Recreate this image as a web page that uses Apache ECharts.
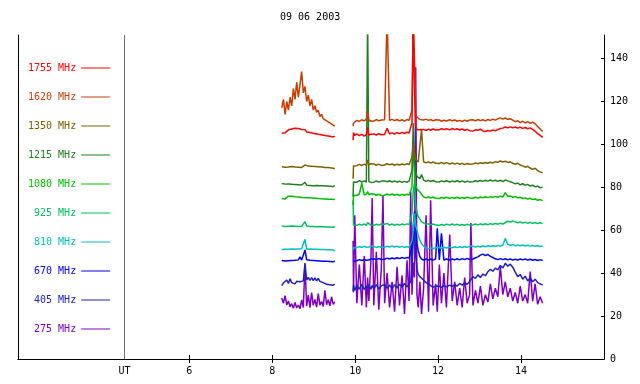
<!DOCTYPE html>
<html><head><meta charset="utf-8">
<script src="https://cdn.jsdelivr.net/npm/echarts@6/dist/echarts.min.js"></script>
<style>html,body{margin:0;padding:0;background:#fff}#c{width:640px;height:384px}</style>
</head><body><div id="c"></div>
<script>
const titleText = '09 06 2003';
const channels = ['1755 MHz','1620 MHz','1350 MHz','1215 MHz','1080 MHz','925 MHz','810 MHz','670 MHz','405 MHz','275 MHz'];
const colors = ['#ff0000','#c83c00','#806000','#208020','#00c000','#00c060','#00c0c0','#0000ff','#2020c0','#8000c0'];
const xTicks = [6, 8, 10, 12, 14];
const yTicks = [0, 20, 40, 60, 80, 100, 120, 140];
const utHour = 4.44;
const utLabel = 'UT';

const times1 = [
8.23, 8.27, 8.31, 8.35, 8.39, 8.43, 8.47, 8.51, 8.55, 8.59,
8.63, 8.67, 8.71, 8.75, 8.79, 8.83, 8.87, 8.91, 8.95, 8.99,
9.03, 9.07, 9.11, 9.15, 9.19, 9.23, 9.27, 9.31, 9.35, 9.39,
9.43, 9.47, 9.51];
const times2 = [
9.95, 9.96, 9.99, 10.04, 10.10, 10.16, 10.22, 10.27, 10.30, 10.33,
10.38, 10.41, 10.45, 10.51, 10.57, 10.63, 10.67, 10.71, 10.77, 10.83,
10.89, 10.95, 11.01, 11.07, 11.13, 11.19, 11.25, 11.30, 11.34, 11.37,
11.40, 11.43, 11.46, 11.49, 11.52, 11.56, 11.60, 11.65, 11.71, 11.77,
11.82, 11.88, 11.94, 11.98, 12.03, 12.08, 12.14, 12.20, 12.28, 12.34,
12.40, 12.46, 12.52, 12.58, 12.64, 12.70, 12.76, 12.79, 12.84, 12.90,
12.96, 13.02, 13.08, 13.14, 13.20, 13.26, 13.32, 13.38, 13.44, 13.50,
13.56, 13.62, 13.68, 13.74, 13.80, 13.86, 13.92, 13.98, 14.04, 14.10,
14.16, 14.22, 14.28, 14.34, 14.40, 14.46, 14.52];
const gapHour = 9.73;

const v1755_1 = [
105.2, 106.0, 105.4, 106.3, 106.8, 106.1, 107.2, 106.5, 107.5, 106.8,
107.4, 106.6, 107.0, 106.2, 106.9, 105.8, 106.4, 105.6, 106.0, 105.2,
105.7, 104.9, 105.3, 104.6, 105.0, 104.3, 104.7, 104.0, 104.4, 103.8,
104.2, 103.5, 103.9];
const v1755_2 = [
102.0, 105.5, 104.2, 104.9, 104.1, 104.7, 103.9, 104.6, 108.0, 104.3,
104.8, 104.2, 104.9, 104.4, 105.0, 104.5, 105.1, 104.6, 107.5, 104.9,
105.4, 104.8, 105.5, 105.0, 105.6, 105.1, 105.7, 105.3, 106.0, 110.0,
160.0, 125.0, 108.5, 107.0, 106.2, 106.8, 106.3, 107.0, 106.5, 107.1,
106.6, 107.2, 106.7, 107.3, 106.8, 107.4, 106.9, 107.3, 106.8, 107.4,
106.9, 107.3, 106.7, 107.2, 106.5, 107.0, 106.4, 106.9, 106.2, 106.8,
106.6, 107.1, 106.3, 106.0, 106.5, 106.2, 106.7, 106.4, 106.9, 107.4,
107.6, 108.1, 107.7, 108.2, 107.8, 108.1, 107.6, 108.0, 107.5, 107.9,
107.3, 107.7, 107.0, 106.2, 105.0, 104.2, 103.3];

const v1620_1 = [
117, 121, 114, 120, 116, 122, 118, 126, 121, 129,
122, 128, 134, 124, 127, 120, 123, 118, 121, 116,
118, 115, 116, 113, 114, 112, 112, 111, 110.5, 110,
109.5, 109, 108.5];
const v1620_2 = [
108.5, 110.0, 110.6, 111.2, 110.7, 111.5, 111.0, 111.8, 116.0, 111.4,
110.8, 111.5, 110.9, 111.6, 111.0, 111.4, 110.8, 111.5, 160.0, 111.2,
111.7, 111.1, 111.6, 111.0, 111.5, 110.9, 111.6, 111.2, 112.0, 116.0,
160.0, 140.0, 114.0, 112.8, 112.2, 111.6, 112.0, 111.4, 111.8, 111.2,
111.6, 111.0, 111.5, 110.9, 111.4, 110.8, 111.3, 110.9, 111.5, 111.0,
111.4, 110.8, 111.2, 110.7, 111.3, 110.8, 111.4, 110.9, 111.5, 111.0,
111.6, 111.1, 111.5, 111.0, 111.6, 111.2, 111.8, 111.3, 111.9, 112.4,
111.8, 112.3, 111.7, 112.0, 111.3, 110.6, 111.0, 110.2, 110.8, 110.0,
110.6, 109.9, 110.4, 109.6, 108.4, 107.2, 106.0];

const v1350_1 = [
89.6, 90.2, 89.4, 90.0, 89.5, 90.3, 89.7, 90.1, 89.5, 90.0,
89.4, 89.9, 89.3, 89.8, 90.4, 89.5, 89.9, 89.3, 89.8, 89.2,
89.7, 89.1, 89.6, 89.0, 89.5, 88.9, 89.3, 88.7, 89.2, 88.6,
89.0, 88.4, 88.8];
const v1350_2 = [
84.0, 90.0, 90.6, 90.1, 90.7, 90.2, 90.8, 90.3, 92.8, 90.5,
91.0, 90.4, 90.9, 90.3, 90.8, 90.2, 90.7, 90.4, 91.0, 90.5,
90.9, 90.3, 90.8, 90.4, 90.9, 90.5, 91.0, 90.6, 91.2, 94.0,
100.0, 96.0, 93.0, 92.2, 91.8, 92.3, 106.8, 91.9, 91.4, 91.9,
91.3, 91.8, 91.2, 91.7, 91.1, 91.6, 91.0, 91.5, 90.9, 91.4,
90.8, 91.3, 90.7, 91.2, 90.6, 91.1, 90.8, 91.3, 90.9, 91.4,
91.0, 91.5, 91.1, 91.6, 91.2, 91.7, 91.3, 92.0, 91.6, 92.3,
91.8, 92.2, 91.6, 91.9, 91.2, 90.8, 91.2, 90.4, 90.0, 89.4,
89.8, 89.0, 88.4, 88.9, 87.8, 87.2, 86.8];

const v1215_1 = [
81.8, 82.4, 81.5, 82.2, 81.6, 82.5, 81.4, 82.0, 81.3, 81.9,
81.2, 81.8, 81.1, 81.7, 82.3, 81.0, 81.6, 80.9, 81.5, 80.8,
81.4, 80.9, 81.3, 80.8, 81.2, 80.7, 81.0, 80.6, 81.1, 80.5,
80.9, 80.4, 80.8];
const v1215_2 = [
75.7, 82.5, 83.0, 82.4, 83.1, 82.5, 83.0, 82.4, 160.0, 82.8,
82.3, 82.9, 82.4, 83.0, 82.5, 82.9, 82.4, 83.0, 82.6, 83.1,
82.5, 83.0, 82.4, 82.9, 82.3, 82.8, 82.4, 82.9, 83.4, 88.0,
110.0, 92.0, 87.0, 85.2, 84.6, 84.0, 86.0, 83.4, 82.8, 83.3,
82.7, 83.2, 82.6, 83.1, 82.5, 83.0, 82.6, 83.1, 82.5, 83.0,
82.6, 83.1, 82.5, 83.0, 82.4, 82.9, 82.5, 83.0, 82.6, 83.1,
82.7, 83.2, 82.8, 83.3, 82.9, 83.4, 82.9, 83.3, 82.8, 83.3,
82.7, 83.4, 83.0, 82.6, 82.2, 81.6, 82.0, 81.2, 81.7, 80.9,
81.4, 80.6, 81.0, 80.2, 80.6, 79.8, 80.1];

const v1080_1 = [
74.8, 75.4, 74.6, 75.3, 75.9, 75.2, 75.8, 75.1, 75.6, 74.9,
75.5, 74.8, 75.3, 74.7, 75.2, 74.6, 75.1, 74.5, 75.0, 74.4,
74.9, 74.3, 74.8, 74.3, 74.7, 74.2, 74.6, 74.1, 74.5, 74.0,
74.4, 73.9, 74.3];
const v1080_2 = [
71.8, 76.3, 76.8, 76.2, 76.9, 81.9, 76.4, 76.9, 78.0, 76.5,
77.0, 76.4, 76.9, 76.3, 76.8, 76.2, 76.7, 76.3, 76.9, 76.4,
76.9, 76.3, 76.8, 76.2, 76.7, 76.3, 76.8, 76.4, 77.0, 80.0,
102.0, 88.0, 81.0, 79.2, 78.6, 77.8, 76.8, 75.6, 75.1, 75.6,
75.0, 75.5, 74.9, 75.4, 74.8, 75.3, 74.9, 75.4, 74.8, 75.3,
74.9, 75.4, 74.8, 75.3, 74.9, 75.4, 75.0, 75.5, 74.9, 75.4,
75.0, 75.5, 75.1, 75.6, 75.2, 75.7, 75.3, 75.8, 75.4, 75.9,
75.5, 77.5, 75.8, 76.0, 75.4, 75.7, 75.1, 75.4, 74.8, 75.1,
74.5, 74.9, 74.3, 74.6, 74.0, 74.3, 73.8];

const v925_1 = [
62.0, 62.5, 61.8, 62.4, 61.9, 62.6, 62.0, 62.5, 61.9, 62.4,
61.8, 62.3, 61.9, 62.5, 64.0, 62.0, 62.4, 61.8, 62.3, 61.7,
62.2, 61.6, 62.1, 61.7, 62.2, 61.6, 62.0, 61.5, 62.0, 61.5,
61.9, 61.4, 61.8];
const v925_2 = [
74.0, 62.4, 62.9, 62.3, 62.8, 62.4, 62.9, 62.3, 63.6, 62.8,
62.4, 62.9, 62.3, 62.8, 62.4, 62.9, 62.3, 62.8, 63.2, 62.4,
62.9, 62.3, 62.8, 62.4, 62.9, 62.5, 63.0, 62.6, 63.4, 68.0,
78.0, 82.0, 72.0, 68.0, 66.4, 65.2, 64.0, 63.4, 62.8, 63.0,
62.5, 62.9, 62.4, 62.8, 62.3, 62.7, 62.3, 62.8, 62.4, 62.9,
62.4, 62.8, 62.3, 62.7, 62.3, 62.8, 62.4, 62.9, 62.5, 62.9,
62.5, 63.0, 62.6, 63.0, 62.6, 63.1, 62.7, 63.2, 62.8, 63.3,
62.9, 63.6, 64.2, 63.8, 64.4, 63.9, 63.5, 63.9, 63.4, 63.8,
63.3, 63.7, 63.2, 63.6, 63.1, 63.5, 63.2];

const v810_1 = [
51.0, 50.6, 51.1, 50.7, 51.2, 50.8, 51.3, 50.9, 51.2, 50.8,
51.3, 50.9, 51.4, 51.0, 55.8, 51.2, 50.8, 51.3, 50.9, 51.2,
50.8, 51.1, 50.7, 51.0, 50.6, 51.0, 50.6, 50.9, 50.5, 50.9,
50.5, 50.8, 50.4];
const v810_2 = [
50.8, 51.8, 52.3, 51.9, 52.4, 52.0, 52.5, 52.1, 52.6, 52.2,
52.6, 52.1, 52.5, 52.0, 52.4, 52.0, 52.5, 52.1, 52.6, 52.2,
52.7, 52.2, 52.6, 52.1, 52.5, 52.0, 52.4, 52.1, 52.6, 55.0,
60.0, 67.9, 62.0, 60.1, 57.5, 55.4, 53.8, 52.6, 51.8, 51.4,
51.8, 51.4, 51.9, 51.5, 52.0, 51.6, 52.1, 51.7, 52.2, 51.8,
52.3, 51.9, 52.3, 52.0, 52.4, 52.0, 52.5, 52.1, 52.5, 52.2,
52.6, 52.2, 52.7, 52.3, 52.8, 52.4, 52.8, 52.5, 52.9, 52.6,
53.0, 56.2, 53.4, 52.9, 53.3, 52.8, 53.2, 52.8, 53.1, 52.7,
53.0, 52.6, 52.9, 52.5, 52.8, 52.4, 52.7];

const v670_1 = [
45.9, 46.4, 45.7, 46.3, 45.8, 46.5, 45.9, 46.6, 46.0, 46.9,
46.2, 47.6, 46.1, 46.7, 50.8, 46.3, 46.8, 46.0, 46.5, 45.9,
46.4, 45.8, 46.3, 45.7, 46.2, 45.6, 46.1, 45.5, 46.0, 45.4,
45.9, 45.3, 45.7];
const v670_2 = [
45.4, 45.9, 45.2, 45.8, 46.3, 45.9, 46.4, 46.0, 46.5, 46.1,
46.6, 46.2, 46.7, 46.3, 46.8, 46.4, 46.9, 46.5, 47.0, 46.6,
47.1, 46.7, 47.2, 46.8, 47.3, 46.9, 47.3, 47.0, 47.8, 52.0,
62.0, 68.7, 60.0, 53.9, 50.5, 47.7, 46.6, 46.1, 46.6, 46.1,
46.6, 46.1, 46.6, 60.9, 46.2, 58.6, 46.1, 46.6, 46.1, 46.6,
46.2, 46.7, 46.2, 46.8, 46.3, 46.9, 46.4, 47.0, 46.6, 47.2,
47.6, 48.4, 48.9, 48.2, 48.7, 47.8, 47.3, 46.7, 46.3, 46.8,
46.3, 46.7, 46.2, 46.6, 46.1, 46.5, 46.1, 46.6, 46.2, 46.6,
46.1, 46.5, 46.0, 46.4, 45.9, 46.3, 45.9];

const v405_1 = [
34.2, 35.4, 34.6, 36.8, 35.2, 37.4, 35.6, 36.5, 35.0, 36.2,
35.3, 36.0, 35.1, 36.4, 44.7, 36.8, 38.0, 36.6, 37.9, 36.5,
37.8, 36.4, 37.6, 36.2, 37.1, 35.6, 36.0, 34.8, 35.5, 34.6,
35.2, 34.4, 34.9];
const v405_2 = [
31.5, 34.5, 32.0, 34.2, 32.6, 34.8, 32.4, 34.0, 33.0, 34.6,
32.5, 34.3, 32.8, 34.7, 32.6, 34.1, 33.2, 34.8, 33.0, 34.5,
32.7, 34.6, 33.1, 34.9, 33.4, 35.2, 33.6, 35.0, 36.0, 44.0,
55.0, 62.0, 48.0, 42.0, 39.5, 38.4, 37.5, 36.8, 35.6, 34.9,
34.2, 33.4, 34.0, 33.2, 33.9, 33.4, 34.2, 33.6, 34.4, 33.8,
34.6, 34.0, 35.2, 34.4, 35.6, 34.8, 36.1, 35.2, 38.4, 37.6,
39.2, 38.0, 39.6, 38.8, 40.7, 41.8, 40.9, 42.3, 41.5, 43.6,
42.4, 44.6, 43.2, 44.2, 42.8, 40.5, 38.4, 39.4, 37.2, 38.6,
36.4, 37.8, 36.0, 37.2, 35.6, 35.0, 34.5];

const v275_1 = [
28.4, 26.0, 29.5, 25.2, 27.0, 24.3, 25.8, 23.6, 26.4, 23.8,
25.1, 23.4, 27.5, 24.0, 44.0, 24.6, 29.8, 23.9, 31.0, 25.0,
27.8, 24.2, 30.5, 25.1, 26.8, 24.5, 32.0, 25.3, 27.6, 24.8,
29.0, 25.5, 26.6];
const v275_2 = [
55.0, 31.0, 67.0, 26.0, 44.0, 25.0, 48.0, 24.0, 38.0, 27.0,
46.0, 75.0, 25.0, 50.0, 23.0, 42.0, 76.0, 26.0, 40.0, 24.0,
36.0, 22.0, 43.0, 25.0, 39.0, 21.0, 46.0, 27.0, 78.0, 30.0,
45.0, 38.0, 136.0, 30.0, 24.0, 36.0, 21.0, 33.0, 67.0, 22.0,
74.0, 25.0, 35.0, 22.0, 44.0, 26.0, 40.0, 24.0, 58.0, 27.0,
36.0, 25.0, 33.0, 24.0, 38.0, 26.0, 30.0, 63.4, 25.0, 32.0,
26.0, 34.0, 25.0, 30.0, 26.5, 35.0, 28.0, 33.0, 29.0, 43.0,
30.0, 36.0, 29.0, 33.0, 27.0, 31.0, 26.0, 34.0, 27.0, 30.0,
26.0, 40.7, 27.0, 35.0, 25.5, 29.0, 26.0];

const seg1 = [v1755_1, v1620_1, v1350_1, v1215_1, v1080_1, v925_1, v810_1, v670_1, v405_1, v275_1];
const seg2 = [v1755_2, v1620_2, v1350_2, v1215_2, v1080_2, v925_2, v810_2, v670_2, v405_2, v275_2];

function build(a, b) {
  const d = times1.map((t, i) => [t, a[i]]);
  d.push([gapHour, null]);
  return d.concat(times2.map((t, i) => [t, b[i]]));
}

const FONT = 'DejaVu Sans Mono';
const chart = echarts.init(document.getElementById('c'), null, {renderer: 'canvas'});
const series = [];
for (let i = channels.length - 1; i >= 0; i--) {
  const s = {
    name: channels[i], type: 'line', symbol: 'none', showSymbol: false,
    color: colors[i], lineStyle: {width: 1.5, color: colors[i]},
    emphasis: {disabled: true}, connectNulls: false,
    data: build(seg1[i], seg2[i])
  };
  if (i === channels.length - 1) {
    s.markLine = {
      silent: true, symbol: ['none', 'none'], label: {show: false},
      lineStyle: {color: '#707070', type: 'solid', width: 1},
      emphasis: {disabled: true},
      data: [{xAxis: utHour}]
    };
  }
  series.push(s);
}

chart.setOption({
  animation: false,
  backgroundColor: '#fff',
  title: {
    text: titleText, left: 280, top: 12, padding: 0,
    textStyle: {fontFamily: FONT, fontSize: 10, fontWeight: 'normal', color: '#000'}
  },
  legend: {
    orient: 'vertical', left: 28, top: 62, padding: 0, itemGap: 17,
    itemWidth: 29, itemHeight: 1, align: 'right', icon: 'rect', selectedMode: false,
    textStyle: {fontFamily: FONT, fontSize: 10, lineHeight: 12},
    data: channels.map((n, i) => ({name: n, textStyle: {color: colors[i]}, itemStyle: {color: colors[i]}}))
  },
  grid: {left: 18, right: 36, top: 35, bottom: 25, containLabel: false},
  xAxis: [{
    type: 'value', min: 1.87, max: 16, position: 'bottom',
    axisLine: {show: true, lineStyle: {color: '#000', width: 1}},
    axisTick: {show: true, inside: true, length: 4, customValues: xTicks, lineStyle: {color: '#000'}},
    axisLabel: {
      customValues: [utHour].concat(xTicks),
      formatter: v => (Math.abs(v - utHour) < 0.01 ? utLabel : String(v)),
      fontFamily: FONT, fontSize: 10, color: '#000', margin: 7
    },
    splitLine: {show: false}
  }, {
    type: 'value', min: 1.87, max: 16, position: 'top',
    axisLine: {show: true, lineStyle: {color: '#000', width: 1}},
    axisTick: {show: true, inside: true, length: 4, customValues: xTicks, lineStyle: {color: '#000'}},
    axisLabel: {show: false}, splitLine: {show: false}
  }],
  yAxis: [{
    type: 'value', min: 0, max: 151, position: 'right',
    axisLine: {show: true, lineStyle: {color: '#000', width: 1}},
    axisTick: {show: true, inside: true, length: 3, customValues: yTicks, lineStyle: {color: '#000'}},
    axisLabel: {customValues: yTicks, fontFamily: FONT, fontSize: 10, color: '#000', margin: 6},
    splitLine: {show: false}
  }, {
    type: 'value', min: 0, max: 151, position: 'left',
    axisLine: {show: true, lineStyle: {color: '#000', width: 1}},
    axisTick: {show: false}, axisLabel: {show: false}, splitLine: {show: false}
  }],
  series: series
});
</script></body></html>
